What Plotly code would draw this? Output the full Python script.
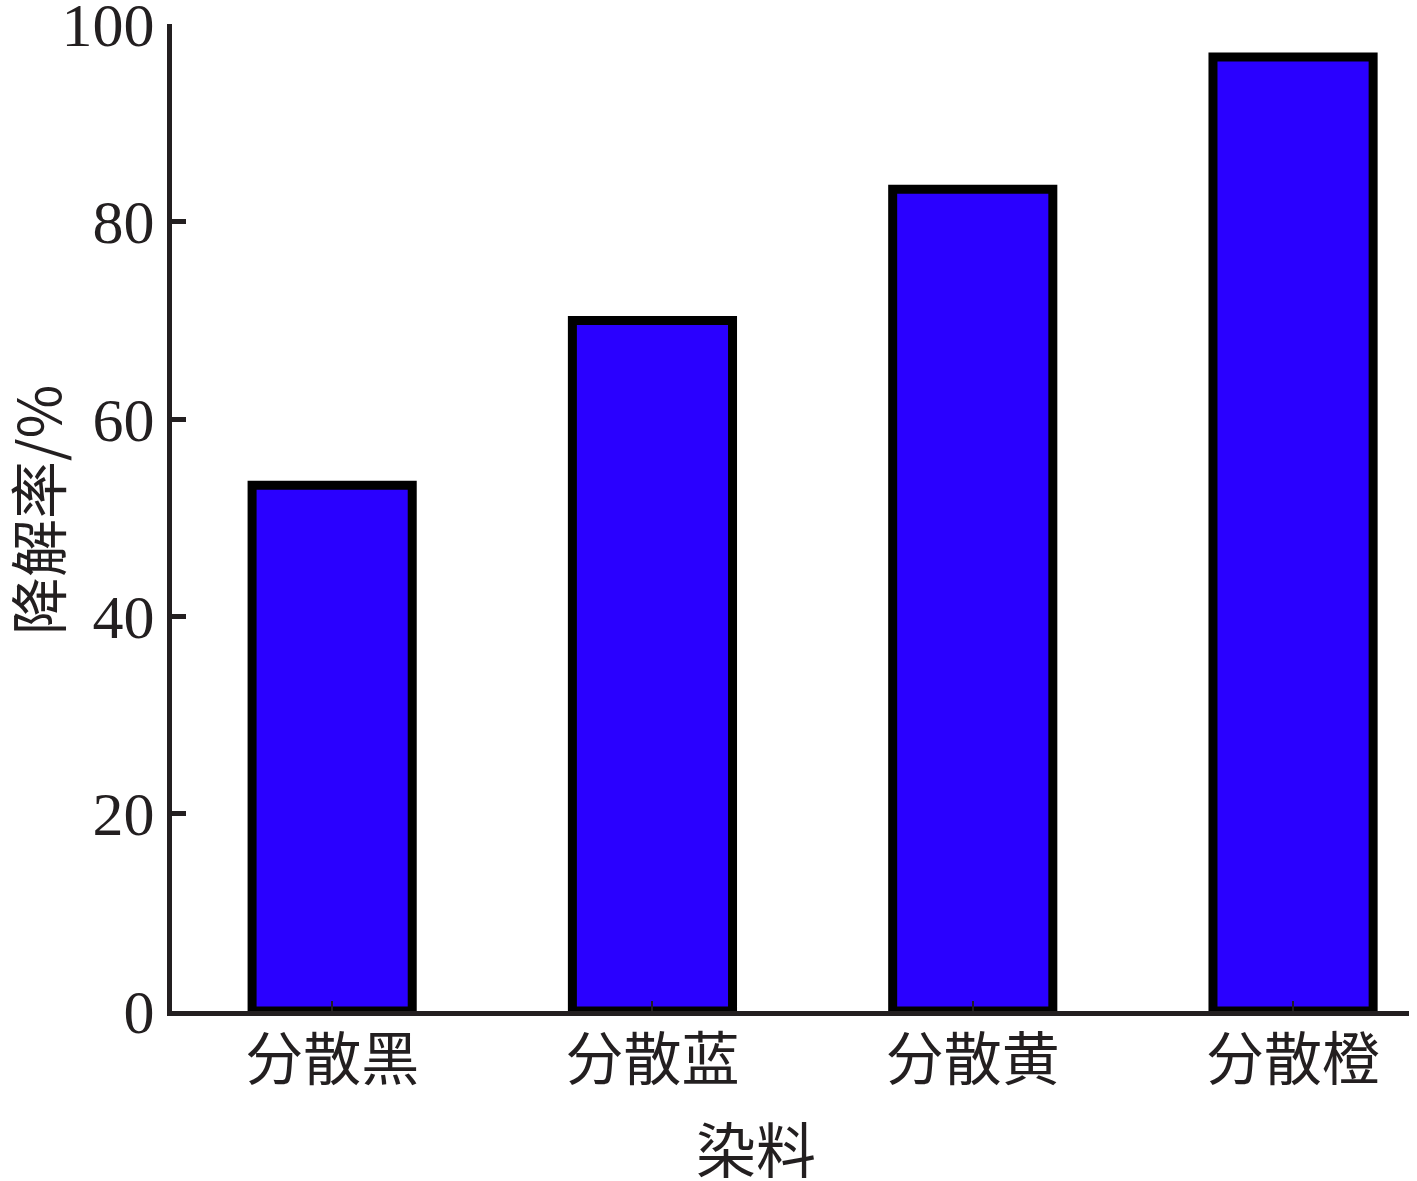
import plotly.graph_objects as go

categories = ["分散黑", "分散蓝", "分散黄", "分散橙"]
values = [53.3, 70.0, 83.3, 96.7]
y_ticks = [0, 20, 40, 60, 80, 100]
x_title = "染料"
y_title = "降解率/%"

axis_color = "#231f20"
text_color = "#231f20"

fig = go.Figure()
fig.add_trace(go.Bar(
    x=list(range(len(categories))),
    y=values,
    width=0.5,
    marker=dict(color="#2a00ff", line=dict(color="#000000", width=9)),
))

fig.update_layout(
    width=1417, height=1181,
    margin=dict(l=172, r=8, t=24, b=170, autoexpand=False),
    plot_bgcolor="white", paper_bgcolor="white",
    showlegend=False,
    font=dict(family="Liberation Serif, Noto Sans CJK SC", color=text_color),
    xaxis=dict(
        range=[-0.5, 3.362],
        tickmode="array",
        tickvals=list(range(len(categories))),
        ticktext=categories,
        tickfont=dict(family="Noto Sans CJK SC", size=58, color=text_color),
        ticks="inside", ticklen=10, tickwidth=2, tickcolor=axis_color,
        ticklabelstandoff=-6,
        showline=True, linewidth=5, linecolor=axis_color,
        showgrid=False, zeroline=False, automargin=False,
    ),
    yaxis=dict(
        range=[0, 100.05],
        tickmode="array",
        tickvals=y_ticks,
        ticktext=[str(v) for v in y_ticks],
        tickfont=dict(family="Liberation Serif", size=62, color=text_color),
        ticks="inside", ticklen=14, tickwidth=5, tickcolor=axis_color,
        ticklabeloverflow="allow",
        showline=True, linewidth=5, linecolor=axis_color,
        showgrid=False, zeroline=False, automargin=False,
    ),
    annotations=[
        dict(text=x_title, xref="paper", yref="paper", x=0.472, y=-0.1375,
             xanchor="center", yanchor="middle", showarrow=False,
             font=dict(family="Noto Sans CJK SC", size=60, color=text_color)),
        dict(text=y_title, xref="paper", yref="paper", x=-0.1099, y=0.5076,
             xanchor="center", yanchor="middle", showarrow=False, textangle=-90,
             font=dict(family="Noto Sans CJK SC, Liberation Serif", size=58, color=text_color)),
    ],
)

fig.write_html(
    "out.html",
    config={"displayModeBar": False},
    post_script="document.body.style.margin='0';document.body.style.overflow='hidden';",
)
